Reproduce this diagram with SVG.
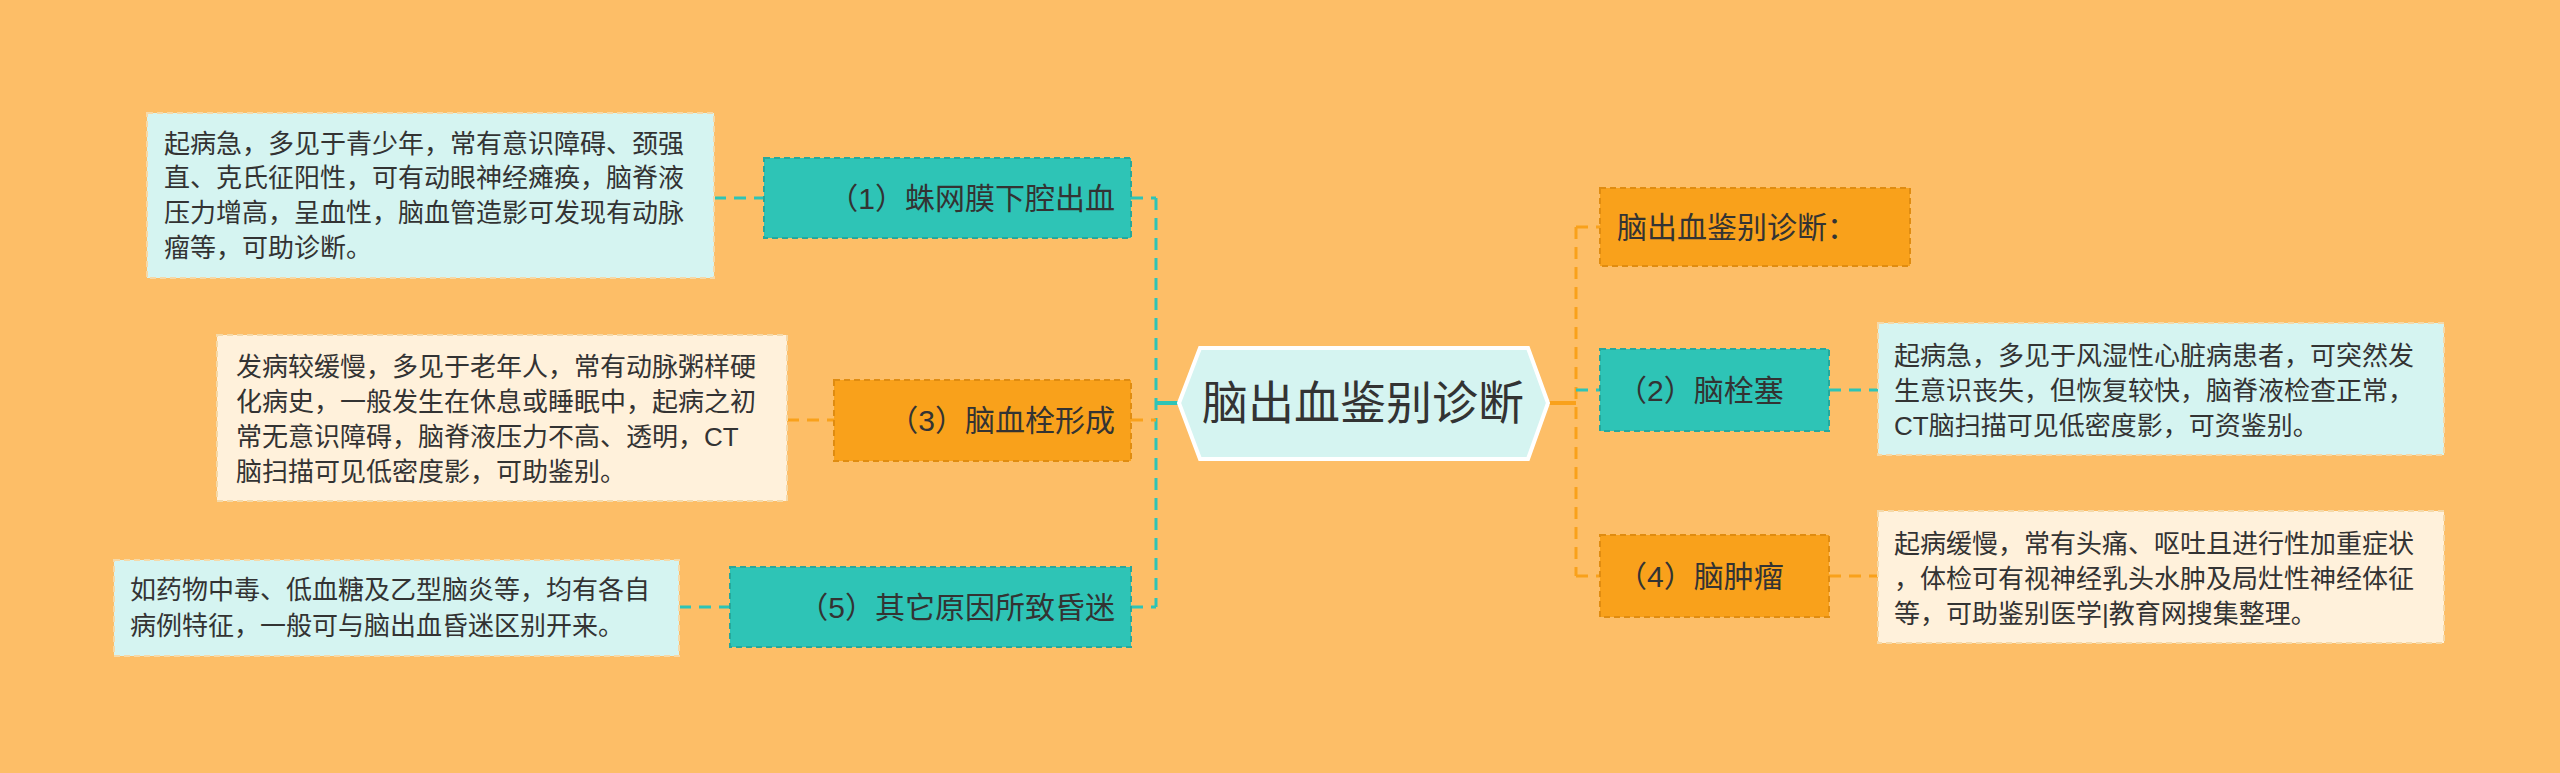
<svg xmlns="http://www.w3.org/2000/svg" width="2560" height="773" viewBox="0 0 2560 773">
<style>
text{font-family:"Liberation Sans","Noto Sans CJK SC",sans-serif;fill:#333;dominant-baseline:central}
.n{font-size:30px}
.d{font-size:26px}
.teal{fill:#2EC4B6;stroke:#26A89C;stroke-width:2;stroke-dasharray:6 4}
.org{fill:#F9A11B;stroke:#E08C10;stroke-width:2;stroke-dasharray:6 4}
.cy{fill:#D5F4F1;stroke:#F5D9A8;stroke-width:2;stroke-dasharray:6 4}
.cr{fill:#FFF1DB;stroke:#F5D9A8;stroke-width:2;stroke-dasharray:6 4}
.lt{fill:none;stroke:#2EC4B6;stroke-width:3;stroke-dasharray:12 8}
.lo{fill:none;stroke:#F9A11B;stroke-width:3;stroke-dasharray:12 8}
</style>
<rect width="2560" height="773" fill="#FDBE67"/>
<g id="connectors">
<path class="lt" d="M1156 198V607"/>
<path d="M1156 403H1179" stroke="#2EC4B6" stroke-width="4"/>
<path class="lt" d="M1131 198H1156M1131 607H1156"/>
<path class="lo" d="M1131 420H1156"/>
<path class="lt" d="M714 198H764M679 607H730"/>
<path class="lo" d="M787 420H834"/>
<path d="M1548 403H1576" stroke="#F9A11B" stroke-width="4"/>
<path class="lo" d="M1576 227V576M1576 227H1600M1576 576H1600M1829 576H1878"/>
<path class="lt" d="M1576 390H1600M1829 390H1878"/>
</g>
<g id="center">
<path d="M1200 348H1528L1548 403L1528 459H1200L1179 403Z" fill="#D5F4F1" stroke="#fff" stroke-width="4"/>
<text x="1363" y="403" font-size="46" text-anchor="middle">脑出血鉴别诊断</text>
</g>
<g id="n1"><rect class="teal" x="764" y="158" width="367" height="80"/><text class="n" x="1115" y="198" text-anchor="end">（1）蛛网膜下腔出血</text></g>
<g id="d1"><rect class="cy" x="147" y="113" width="567" height="165"/>
<text class="d" x="164"><tspan x="164" y="144">起病急，多见于青少年，常有意识障碍、颈强</tspan><tspan x="164" y="178">直、克氏征阳性，可有动眼神经瘫痪，脑脊液</tspan><tspan x="164" y="213">压力增高，呈血性，脑血管造影可发现有动脉</tspan><tspan x="164" y="248">瘤等，可助诊断。</tspan></text></g>
<g id="n3"><rect class="org" x="834" y="380" width="297" height="81"/><text class="n" x="1115" y="420" text-anchor="end">（3）脑血栓形成</text></g>
<g id="d3"><rect class="cr" x="217" y="335" width="570" height="166"/>
<text class="d"><tspan x="236" y="367">发病较缓慢，多见于老年人，常有动脉粥样硬</tspan><tspan x="236" y="402">化病史，一般发生在休息或睡眠中，起病之初</tspan><tspan x="236" y="437">常无意识障碍，脑脊液压力不高、透明，CT</tspan><tspan x="236" y="472">脑扫描可见低密度影，可助鉴别。</tspan></text></g>
<g id="n5"><rect class="teal" x="730" y="567" width="401" height="80"/><text class="n" x="1115" y="607" text-anchor="end">（5）其它原因所致昏迷</text></g>
<g id="d5"><rect class="cy" x="114" y="560" width="565" height="96"/>
<text class="d"><tspan x="130" y="590">如药物中毒、低血糖及乙型脑炎等，均有各自</tspan><tspan x="130" y="626">病例特征，一般可与脑出血昏迷区别开来。</tspan></text></g>
<g id="n0"><rect class="org" x="1600" y="188" width="310" height="78"/><text class="n" x="1617" y="227">脑出血鉴别诊断：</text></g>
<g id="n2"><rect class="teal" x="1600" y="349" width="229" height="82"/><text class="n" x="1617" y="390">（2）脑栓塞</text></g>
<g id="d2"><rect class="cy" x="1878" y="323" width="566" height="132"/>
<text class="d"><tspan x="1894" y="356">起病急，多见于风湿性心脏病患者，可突然发</tspan><tspan x="1894" y="391">生意识丧失，但恢复较快，脑脊液检查正常，</tspan><tspan x="1894" y="426">CT脑扫描可见低密度影，可资鉴别。</tspan></text></g>
<g id="n4"><rect class="org" x="1600" y="535" width="229" height="82"/><text class="n" x="1617" y="576">（4）脑肿瘤</text></g>
<g id="d4"><rect class="cr" x="1878" y="511" width="566" height="132"/>
<text class="d"><tspan x="1894" y="544">起病缓慢，常有头痛、呕吐且进行性加重症状</tspan><tspan x="1894" y="579">，体检可有视神经乳头水肿及局灶性神经体征</tspan><tspan x="1894" y="614">等，可助鉴别医学|教育网搜集整理。</tspan></text></g>
</svg>
